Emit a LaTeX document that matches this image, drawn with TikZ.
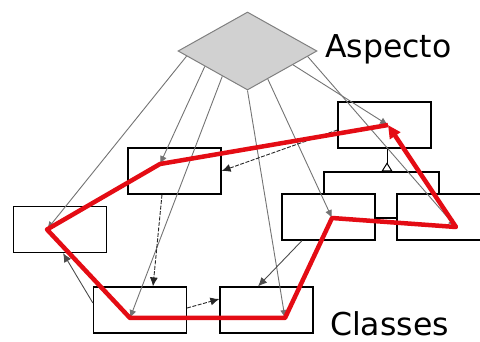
\documentclass[tikz,border=0pt]{standalone}
\usepackage{fontspec}
\newfontfamily\labelfont{DejaVu Sans}
\usetikzlibrary{shapes.geometric,arrows.meta,calc}
\definecolor{tracered}{RGB}{228,12,20}

\begin{document}
\begin{tikzpicture}[x=1pt,y=-1pt,
    cls/.style={draw, fill=white, line width=1.2pt, minimum width=93pt, minimum height=46pt, inner sep=0pt},
    ray/.style={draw=black!55, line width=.9pt, -{Latex[length=8pt,width=7pt]}},
    call/.style={draw=black!85, line width=.9pt, dash pattern=on 4pt off 1.5pt, -{Latex[length=9pt,width=8pt]}},
    link/.style={draw=black!70, line width=.9pt, -{Latex[length=9pt,width=8pt]}},
    trace/.style={draw=tracered, line width=4.5pt, line join=round, -{Triangle[length=13pt,width=12pt]}},
    tag/.style={anchor=base west, inner sep=0pt, font=\labelfont\fontsize{31.5}{31.5}\selectfont}]
    \useasboundingbox (0,0) rectangle (480,342);
    \clip (0,0) rectangle (480,342);

    \node[cls] (a) at (384.5,125) {};
    \node[cls] (b) at (174.5,171) {};
    \node[cls] (c) at (60,229.5) {};
    \node[cls] (d) at (140,310) {};
    \node[cls] (e) at (266.5,310) {};
    \node[cls, minimum width=115pt] (f) at (381.5,195) {};
    \node[cls] (g) at (328.5,217) {};
    \node[cls] (h) at (443.5,217) {};

    \node[diamond, draw=black!50, fill=black!18, line width=1pt, minimum width=139pt, minimum height=78pt, inner sep=0pt] (asp) at (247.5,51) {};

    % join points of the woven path
    \coordinate (pa) at ($(a)+(3.5,0)$);
    \coordinate (pb) at ($(b)+(-14.5,-7)$);
    \coordinate (pc) at ($(c)+(-13,0)$);
    \coordinate (pd) at ($(d)+(-10,8)$);
    \coordinate (pe) at ($(e)+(18.5,8)$);
    \coordinate (pg) at ($(g)+(3.5,1)$);
    \coordinate (ph) at ($(h)+(12.5,10)$);

    \draw[line width=1pt, {Triangle[open,reversed,length=9pt,width=11pt]}-] ([xshift=5.5pt]f.north) -- ([xshift=2.5pt]a.south);

    \draw[ray] ($(asp.west)!.13!(asp.south)$) -- (pc);
    \draw[ray] ($(asp.west)!.39!(asp.south)$) -- (pb);
    \draw[ray] ($(asp.west)!.64!(asp.south)$) -- (pd);
    \draw[ray] (asp.south) -- (pe);
    \draw[ray] ($(asp.south)!.29!(asp.east)$) -- (pg);
    \draw[ray] ($(asp.south)!.65!(asp.east)$) -- (pa);
    \draw[ray] ($(asp.south)!.86!(asp.east)$) -- (ph);

    \draw[call] ([yshift=-5pt]a.west) -- (b.east);
    \draw[call] ([xshift=-12.5pt]b.south) -- ([xshift=13pt]d.north);
    \draw[link] ([yshift=7pt]d.west) -- ([xshift=3pt]c.south);
    \draw[call] ([yshift=2pt]d.east) -- ([yshift=11pt]e.west);
    \draw[link] ([xshift=-26.5pt]g.south) -- ([xshift=-8.5pt]e.north);

    \draw[trace] (pa) -- (pb) -- (pc) -- (pd) -- (pe) -- (pg) -- (ph) -- (pa);

    \node[tag] (laspect) at (325,58) {Aspecto};
    \node[tag] (lclasses) at (330,335) {Classes};
\end{tikzpicture}
\end{document}
